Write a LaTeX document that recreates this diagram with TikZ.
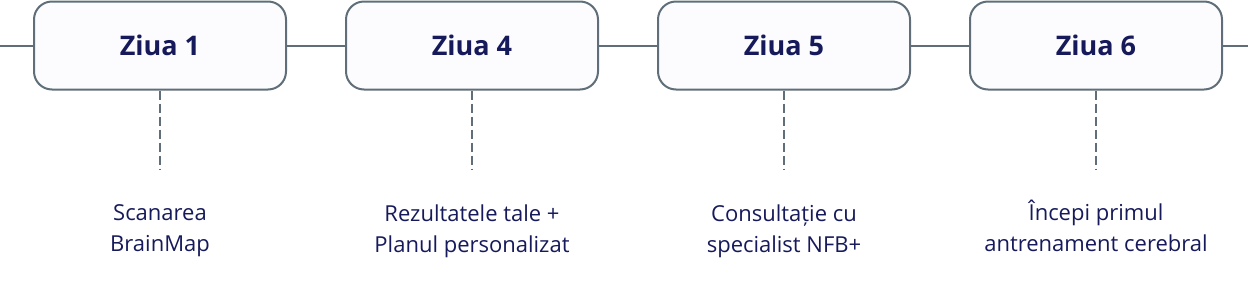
\documentclass[tikz,border=0pt]{standalone}
\usepackage{fontspec}
\setmainfont{Open Sans}
\usetikzlibrary{positioning}
\definecolor{lineGray}{HTML}{5F6E78}
\definecolor{boxFill}{HTML}{FCFCFF}
\definecolor{inkNavy}{HTML}{161A5A}

\begin{document}
\begin{tikzpicture}[x=1pt, y=-1pt, node distance=58pt,
  day/.style={draw=lineGray, line width=2pt, rounded corners=18pt, fill=boxFill,
    minimum width=252pt, minimum height=88pt, text=inkNavy,
    font=\fontsize{27}{34}\selectfont\bfseries},
  desc/.style={align=center, text=inkNavy, font=\fontsize{22}{31}\selectfont},
  link/.style={draw=lineGray, line width=2pt},
  stem/.style={draw=lineGray, line width=2pt, dash pattern=on 9pt off 4pt}]
  \useasboundingbox (0,0) rectangle (1248,290);

  % day boxes along the line
  \node[day] (d1) at (160,45.5) {Ziua 1};
  \node[day, right=of d1] (d4) {Ziua 4};
  \node[day, right=of d4] (d5) {Ziua 5};
  \node[day, right=of d5] (d6) {Ziua 6};

  \coordinate (lineL) at (0,45.5);
  \coordinate (lineR) at (1248,45.5);
  \draw[link] (lineL) -- (d1);
  \draw[link] (d1) -- (d4);
  \draw[link] (d4) -- (d5);
  \draw[link] (d5) -- (d6);
  \draw[link] (d6) -- (lineR);

  % dashed stems and captions
  \foreach \d in {1,4,5,6} {
    \coordinate[below=79pt of d\d.south] (s\d);
    \draw[stem] (d\d.south) -- (s\d);
  }
  \node[desc, below=32pt of s1] (t1) {Scanarea\\BrainMap};
  \node[desc, below=32pt of s4] (t4) {Rezultatele tale +\\Planul personalizat};
  \node[desc, below=32pt of s5] (t5) {Consultație cu\\specialist NFB+};
  \node[desc, below=27pt of s6] (t6) {Începi primul\\antrenament cerebral};
\end{tikzpicture}
\end{document}
